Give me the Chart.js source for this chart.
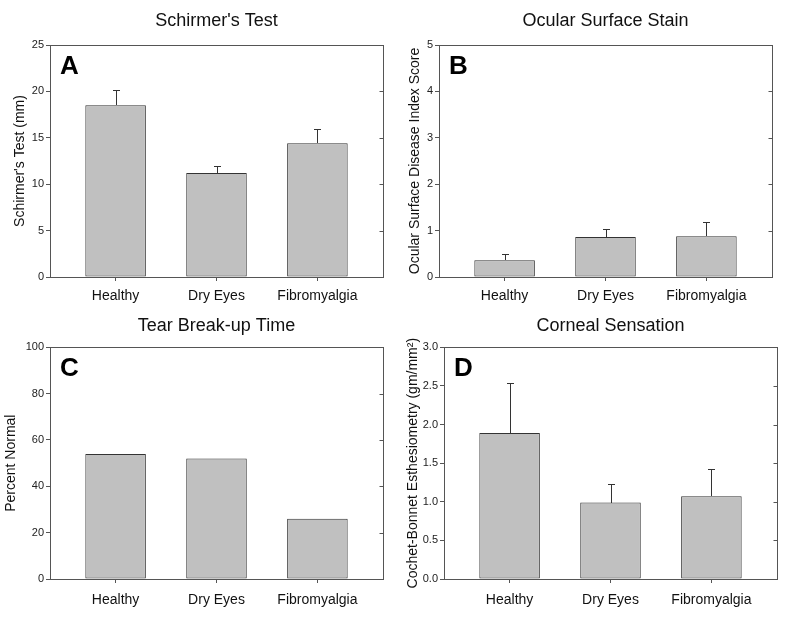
<!DOCTYPE html>
<html>
<head>
<meta charset="utf-8">
<script src="https://cdn.jsdelivr.net/npm/chart.js@4/dist/chart.umd.min.js"></script>
<style>
  body { margin: 0; background: #fff; }
  .wrap { position: relative; width: 790px; height: 617px; }
  canvas { position: absolute; }
</style>
</head>
<body>
<div class="wrap">
  <canvas id="chart1" width="395" height="308" style="left:0;top:0"></canvas>
  <canvas id="chart2" width="395" height="308" style="left:395px;top:0"></canvas>
  <canvas id="chart3" width="395" height="309" style="left:0;top:308px"></canvas>
  <canvas id="chart4" width="395" height="309" style="left:395px;top:308px"></canvas>
</div>
<script>
const groups = ['Healthy', 'Dry Eyes', 'Fibromyalgia'];

const schirmerMean = [18.5, 11.2, 14.4];
const schirmerErr = [1.6, 0.8, 1.6];
const schirmerTicks = [0, 5, 10, 15, 20, 25];

const stainMean = [0.36, 0.86, 0.88];
const stainErr = [0.13, 0.17, 0.31];
const stainTicks = [0, 1, 2, 3, 4, 5];

const tbutPercent = [54, 52, 26];
const tbutTicks = [0, 20, 40, 60, 80, 100];

const sensationMean = [1.89, 0.99, 1.07];
const sensationErr = [0.65, 0.24, 0.36];
const sensationTicks = [0, 0.5, 1, 1.5, 2, 2.5, 3];

const fontFamily = '"Liberation Sans", Arial, sans-serif';

// frame, right-side ticks, upper error bars and the panel letter
const panelExtras = {
    id: 'panelExtras',
    afterDatasetsDraw(chart, args, opts) {
        const ctx = chart.ctx;
        const area = chart.chartArea;
        const yScale = chart.scales.y;
        const ds = chart.data.datasets[0];
        const meta = chart.getDatasetMeta(0);

        ctx.save();
        ctx.lineWidth = 1;

        if (ds.errors) {
            ctx.strokeStyle = '#333';
            meta.data.forEach((bar, i) => {
                const x = Math.round(bar.x) + 0.5;
                const top = Math.round(yScale.getPixelForValue(ds.data[i].y + ds.errors[i])) + 0.5;
                ctx.beginPath();
                ctx.moveTo(x, Math.round(bar.y));
                ctx.lineTo(x, top);
                ctx.moveTo(x - 3.5, top);
                ctx.lineTo(x + 3.5, top);
                ctx.stroke();
            });
        }

        const l = Math.round(area.left) + 0.5;
        const r = Math.round(area.right) + 0.5;
        const t = Math.round(area.top) + 0.5;
        const b = Math.round(area.bottom) + 0.5;
        ctx.strokeStyle = '#555';
        ctx.strokeRect(l, t, r - l, b - t);

        ctx.beginPath();
        yScale.ticks.forEach(tick => {
            const py = Math.round(yScale.getPixelForValue(tick.value)) + 0.5;
            ctx.moveTo(r - 4, py);
            ctx.lineTo(r, py);
        });
        ctx.stroke();

        ctx.fillStyle = '#000';
        ctx.font = 'bold 26px ' + fontFamily;
        ctx.textBaseline = 'alphabetic';
        ctx.fillText(opts.letter, area.left + 10, area.top + 29);
        ctx.restore();
    }
};

function panelConfig(p) {
    return {
        // The type of chart we want to create
        type: 'bar',

        // The data for our dataset
        data: {
            datasets: [{
                data: p.values.map((v, i) => ({x: i, y: v})),
                errors: p.errors,
                backgroundColor: '#c0c0c0',
                borderColor: '#333',
                borderWidth: 1,
                borderSkipped: false,
                barPercentage: 0.6,
                categoryPercentage: 1
            }]
        },

        // Configuration options go here
        options: {
            responsive: false,
            animation: false,
            layout: {
                padding: {left: 0, right: p.padRight, top: 0, bottom: 0}
            },
            plugins: {
                legend: {display: false},
                tooltip: {enabled: false},
                title: {
                    display: true,
                    text: p.title,
                    fullSize: false,
                    color: '#111',
                    font: {family: fontFamily, size: 18, weight: 'normal'},
                    padding: p.titlePad
                },
                panelExtras: {letter: p.letter}
            },
            scales: {
                x: {
                    type: 'linear',
                    offset: false,
                    min: -0.65,
                    max: 2.65,
                    afterBuildTicks: s => { s.ticks = groups.map((g, i) => ({value: i})); },
                    afterFit: s => { s.height = p.xHeight; },
                    border: {display: false},
                    grid: {offset: false, drawOnChartArea: false, tickLength: 4, color: '#555'},
                    ticks: {
                        autoSkip: false,
                        maxRotation: 0,
                        padding: p.xLabelPad,
                        color: '#111',
                        font: {family: fontFamily, size: 14},
                        callback: v => groups[v]
                    }
                },
                y: {
                    type: 'linear',
                    min: p.ticks[0],
                    max: p.ticks[p.ticks.length - 1],
                    afterBuildTicks: s => { s.ticks = p.ticks.map(v => ({value: v})); },
                    afterFit: s => { s.width = p.yWidth; },
                    border: {display: false},
                    grid: {drawOnChartArea: false, tickLength: 4, color: '#555'},
                    ticks: {
                        padding: 2,
                        color: '#222',
                        font: {family: fontFamily, size: 11},
                        callback: p.format
                    },
                    title: {
                        display: true,
                        text: p.yTitle,
                        color: '#111',
                        font: {family: fontFamily, size: 14},
                        padding: {top: p.yTitlePad, bottom: 0}
                    }
                }
            }
        },
        plugins: [panelExtras]
    };
}

const ctx1 = document.getElementById('chart1').getContext('2d');
let chart1 = new Chart(ctx1, panelConfig({
    title: "Schirmer's Test",
    letter: 'A',
    values: schirmerMean,
    errors: schirmerErr,
    ticks: schirmerTicks,
    yTitle: "Schirmer's Test (mm)",
    format: v => v,
    yWidth: 50, padRight: 12, xHeight: 31, yTitlePad: 11.5, xLabelPad: 7,
    titlePad: {top: 10.7, bottom: 12.7}
}));

const ctx2 = document.getElementById('chart2').getContext('2d');
let chart2 = new Chart(ctx2, panelConfig({
    title: 'Ocular Surface Stain',
    letter: 'B',
    values: stainMean,
    errors: stainErr,
    ticks: stainTicks,
    yTitle: 'Ocular Surface Disease Index Score',
    format: v => v,
    yWidth: 44, padRight: 18, xHeight: 31, yTitlePad: 11.5, xLabelPad: 7,
    titlePad: {top: 10.7, bottom: 12.7}
}));

const ctx3 = document.getElementById('chart3').getContext('2d');
let chart3 = new Chart(ctx3, panelConfig({
    title: 'Tear Break-up Time',
    letter: 'C',
    values: tbutPercent,
    errors: null,
    ticks: tbutTicks,
    yTitle: 'Percent Normal',
    format: v => v,
    yWidth: 50, padRight: 12, xHeight: 38, yTitlePad: 2.6, xLabelPad: 9,
    titlePad: {top: 7.2, bottom: 10.5}
}));

const ctx4 = document.getElementById('chart4').getContext('2d');
let chart4 = new Chart(ctx4, panelConfig({
    title: 'Corneal Sensation',
    letter: 'D',
    values: sensationMean,
    errors: sensationErr,
    ticks: sensationTicks,
    yTitle: 'Cochet-Bonnet Esthesiometry (gm/mm\u00b2)',
    format: v => v.toFixed(1),
    yWidth: 49, padRight: 13, xHeight: 38, yTitlePad: 10, xLabelPad: 9,
    titlePad: {top: 7.2, bottom: 10.5}
}));
</script>
</body>
</html>
